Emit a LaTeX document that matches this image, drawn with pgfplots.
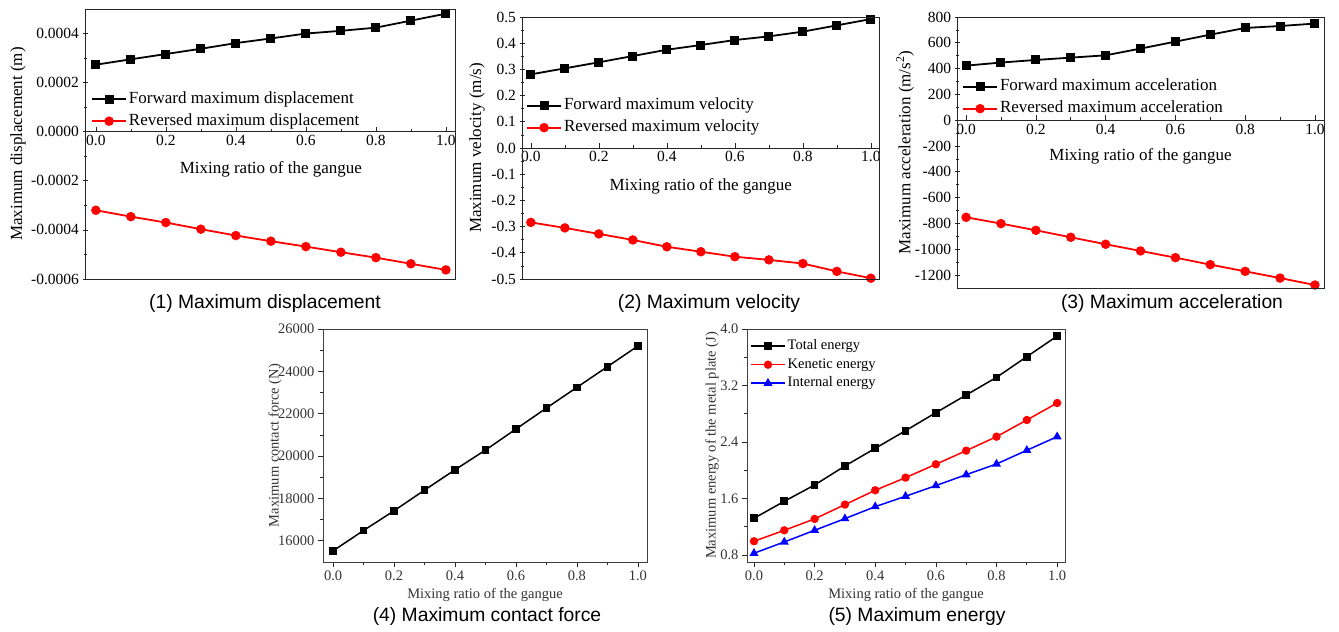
\documentclass[border=0pt]{standalone}
\usepackage{fontspec}
\setmainfont{Liberation Serif}
\newfontfamily\capfont{Liberation Sans}
\usepackage{pgfplots}
\pgfplotsset{compat=1.18}
\newcommand{\fs}[1]{\fontsize{#1bp}{#1bp}\selectfont}
\definecolor{myred}{RGB}{255,0,0}
\definecolor{myblue}{RGB}{0,0,255}
\pgfplotsset{
  base/.style={
    scale only axis, anchor=south west,
    /pgf/number format/assume math mode=true,
    /pgf/number format/set thousands separator={},
    every tick/.style={black!85, line width=0.7bp},
    major tick length=5bp, minor tick length=3bp,
    tick align=outside,
    xtick={0,0.2,0.4,0.6,0.8,1.0},
    minor x tick num=1, minor y tick num=1,
    xticklabel style={/pgf/number format/fixed, /pgf/number format/fixed zerofill, /pgf/number format/precision=1},
    scaled ticks=false,
    legend cell align=left,
    legend image code/.code={\draw[mark repeat=2,mark phase=2] plot coordinates {(0bp,0bp) (17bp,0bp) (34bp,0bp)};},
  },
  top3/.style={base,
    axis x line=middle, axis y line=left,
    axis line style={-, line width=0.8bp, black!85},
    xtick align=inside,
    hide obscured x ticks=false, hide obscured y ticks=false,
    after end axis/.code={\draw[line width=0.8bp, black!85] (rel axis cs:0,0) rectangle (rel axis cs:1,1);},
    tick label style={font=\fs{15.5}},
    label style={font=\fs{17}},
    legend style={font=\fs{17}, draw=none, fill=none, inner sep=0pt, row sep=0pt,
      at={(rel axis cs:0,1)}, anchor=north west,
      nodes={inner xsep=2bp, inner ysep=2bp, text height=13bp, text depth=5bp}},
  },
  bot2/.style={base,
    axis line style={line width=0.8bp, black!75},
    xtick pos=bottom, ytick pos=left,
    tick label style={font=\fs{14.5}, black!80},
    label style={font=\fs{14.5}, black!80},
    xlabel style={at={([yshift=-33bp]rel axis cs:0.5,0)}, anchor=center},
  },
  yl/.style={ylabel style={at={([xshift=-#1]rel axis cs:0,0.5)}, anchor=center, rotate=0}},
  xl/.style={xlabel style={at={([yshift=-#1]axis cs:0.5,0)}, anchor=center}},
  fwd/.style={black, line width=1.8bp, mark=square*, mark size=3.6bp, mark options={solid}},
  rev/.style={myred, line width=1.8bp, mark=*, mark size=3.8bp, mark options={solid}},
}
\begin{document}
\begin{tikzpicture}[x=1bp,y=1bp]
\path[use as bounding box] (0,0) rectangle (1339,632);

% (1) displacement
\begin{axis}[top3, at={(85bp,353bp)}, width=370bp, height=270bp,
  xmin=-0.031, xmax=1.026, ymin=-0.0006, ymax=0.0005,
  ytick={-0.0006,-0.0004,-0.0002,0,0.0002,0.0004},
  yticklabel style={/pgf/number format/fixed, /pgf/number format/fixed zerofill, /pgf/number format/precision=4},
  xlabel={Mixing ratio of the gangue}, xl=38bp,
  ylabel={Maximum displacement (m)}, yl=67bp,
  legend style={xshift=6bp, yshift=-79bp}]
\addplot[fwd] coordinates {(0,0.000273) (0.1,0.000295) (0.2,0.0003165) (0.3,0.000338) (0.4,0.000361) (0.5,0.000380) (0.6,0.000400) (0.7,0.000411) (0.8,0.000424) (0.9,0.0004525) (1.0,0.000481)};
\addlegendentry{Forward maximum displacement}
\addplot[rev] coordinates {(0,-0.000320) (0.1,-0.000346) (0.2,-0.000370) (0.3,-0.000397) (0.4,-0.000423) (0.5,-0.000446) (0.6,-0.000468) (0.7,-0.000491) (0.8,-0.000513) (0.9,-0.000538) (1.0,-0.000563)};
\addlegendentry{Reversed maximum displacement}
\end{axis}

% (2) velocity
\begin{axis}[top3, at={(522bp,353bp)}, width=357bp, height=262bp,
  xmin=-0.026, xmax=1.024, ymin=-0.5, ymax=0.5,
  ytick={-0.5,-0.4,...,0.5},
  yticklabel style={/pgf/number format/fixed, /pgf/number format/fixed zerofill, /pgf/number format/precision=1},
  xlabel={Mixing ratio of the gangue}, xl=38bp,
  ylabel={Maximum velocity (m/s)}, yl=45bp,
  legend style={xshift=4bp, yshift=-77.5bp}, clip=false]
\addplot[fwd] coordinates {(0,0.281) (0.1,0.304) (0.2,0.327) (0.3,0.351) (0.4,0.375) (0.5,0.393) (0.6,0.412) (0.7,0.426) (0.8,0.444) (0.9,0.468) (1.0,0.492)};
\addlegendentry{Forward maximum velocity}
\addplot[rev] coordinates {(0,-0.284) (0.1,-0.305) (0.2,-0.328) (0.3,-0.351) (0.4,-0.377) (0.5,-0.396) (0.6,-0.415) (0.7,-0.427) (0.8,-0.441) (0.9,-0.471) (1.0,-0.497)};
\addlegendentry{Reversed maximum velocity}
\end{axis}

% (3) acceleration
\begin{axis}[top3, at={(957bp,344bp)}, width=367bp, height=271bp,
  xmin=-0.026, xmax=1.026, ymin=-1300, ymax=800,
  ytick={-1200,-1000,...,800},
  xlabel={Mixing ratio of the gangue}, xl=36bp,
  ylabel={Maximum acceleration (m/s\textsuperscript{2})}, yl=52bp,
  legend style={xshift=5bp, yshift=-58.5bp}, clip=false]
\addplot[fwd] coordinates {(0,423) (0.1,447) (0.2,467) (0.3,485) (0.4,503) (0.5,555) (0.6,609) (0.7,663) (0.8,715) (0.9,730) (1.0,749)};
\addlegendentry{Forward maximum acceleration}
\addplot[rev] coordinates {(0,-752) (0.1,-801) (0.2,-853) (0.3,-907) (0.4,-961) (0.5,-1013) (0.6,-1065) (0.7,-1119) (0.8,-1171) (0.9,-1223) (1.0,-1277)};
\addlegendentry{Reversed maximum acceleration}
\end{axis}

% (4) contact force
\begin{axis}[bot2, at={(323bp,70bp)}, width=324bp, height=233bp,
  xmin=-0.033, xmax=1.03, ymin=15000, ymax=26000,
  ytick={16000,18000,...,26000},
  xlabel={Mixing ratio of the gangue},
  ylabel={Maximum contact force (N)}, yl=48bp]
\addplot[black, line width=1.5bp, mark=square*, mark size=3.1bp] coordinates {(0,15528) (0.1,16488) (0.2,17417) (0.3,18394) (0.4,19354) (0.5,20283) (0.6,21276) (0.7,22268) (0.8,23244) (0.9,24220) (1.0,25197)};
\end{axis}

% (5) energy
\begin{axis}[bot2, at={(747bp,70bp)}, width=318bp, height=233bp,
  xmin=-0.023, xmax=1.026, ymin=0.7, ymax=4.0,
  ytick={0.8,1.6,2.4,3.2,4.0},
  yticklabel style={/pgf/number format/fixed, /pgf/number format/fixed zerofill, /pgf/number format/precision=1},
  xlabel={Mixing ratio of the gangue},
  ylabel={Maximum energy of the metal plate (J)}, yl=35bp,
  legend style={font=\fs{14.5}, draw=none, fill=none, inner sep=0pt, row sep=0pt,
      at={(rel axis cs:0,1)}, anchor=north west, xshift=3bp, yshift=-7.75bp,
      nodes={inner xsep=2bp, inner ysep=1.75bp, text height=11bp, text depth=4bp}}]
\addplot[black, line width=1.5bp, mark=square*, mark size=3.1bp] coordinates {(0,1.319) (0.1,1.560) (0.2,1.791) (0.3,2.060) (0.4,2.310) (0.5,2.560) (0.6,2.815) (0.7,3.065) (0.8,3.315) (0.9,3.608) (1.0,3.900)};
\addlegendentry{Total energy}
\addplot[myred, line width=1.5bp, mark=*, mark size=3.4bp] coordinates {(0,0.994) (0.1,1.149) (0.2,1.310) (0.3,1.513) (0.4,1.716) (0.5,1.895) (0.6,2.084) (0.7,2.277) (0.8,2.475) (0.9,2.711) (1.0,2.952)};
\addlegendentry{Kenetic energy}
\addplot[myblue, line width=1.5bp, mark=triangle*, mark size=3.7bp] coordinates {(0,0.824) (0.1,0.984) (0.2,1.149) (0.3,1.314) (0.4,1.484) (0.5,1.631) (0.6,1.782) (0.7,1.937) (0.8,2.088) (0.9,2.282) (1.0,2.475)};
\addlegendentry{Internal energy}
\end{axis}

\node[font=\capfont\fs{19.3}] at (265,328) {(1) Maximum displacement};
\node[font=\capfont\fs{19.3}] at (709,328) {(2) Maximum velocity};
\node[font=\capfont\fs{19.3}] at (1172,328) {(3) Maximum acceleration};
\node[font=\capfont\fs{19.3}] at (487,15) {(4) Maximum contact force};
\node[font=\capfont\fs{19.3}] at (917,15) {(5) Maximum energy};
\end{tikzpicture}
\end{document}
